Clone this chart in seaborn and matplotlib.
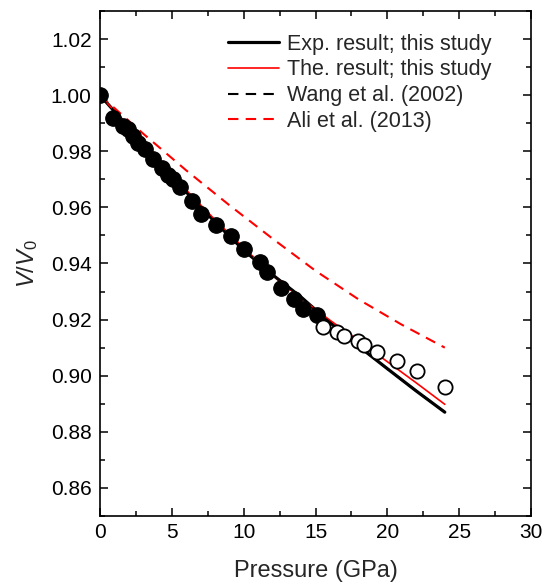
import numpy as np
import pandas as pd
import matplotlib
matplotlib.use('Agg')
import matplotlib.pyplot as plt
import seaborn as sns

# Measured points (filled: this study, open: higher pressure)
p_filled = [0.0, 0.88, 1.62, 1.97, 2.28, 2.67, 3.13, 3.71, 4.29, 4.75, 5.10, 5.57,
            6.38, 7.03, 8.07, 9.10, 10.02, 11.13, 11.60, 12.57, 13.50, 14.15, 15.08]
v_filled = [1.000, 0.9920, 0.9891, 0.9879, 0.9855, 0.9831, 0.9807, 0.9774, 0.9739,
            0.9715, 0.9701, 0.9671, 0.9621, 0.9576, 0.9537, 0.9498, 0.9451, 0.9404,
            0.9368, 0.9314, 0.9273, 0.9237, 0.9216]
p_open = [15.50, 16.47, 17.00, 17.97, 18.39, 19.26, 20.65, 22.04, 24.03]
v_open = [0.9175, 0.9156, 0.9140, 0.9124, 0.9109, 0.9085, 0.9053, 0.9015, 0.8961]

# Fitted curves
p_exp = [0, 2, 4, 6, 8, 10, 12, 14, 16, 18, 20, 22, 24]
v_exp = [1.000, 0.9885, 0.9768, 0.9655, 0.9548, 0.9448, 0.9360, 0.9280, 0.9190,
         0.9105, 0.9025, 0.8946, 0.8870]
p_the = [0, 2, 4, 6, 8, 10, 12, 14, 16, 18, 20, 22, 24]
v_the = [1.000, 0.9888, 0.9775, 0.9662, 0.9556, 0.9456, 0.9360, 0.9275, 0.9198,
         0.9125, 0.9050, 0.8975, 0.8898]
p_wang = [0, 2, 4, 6, 8, 10, 12, 14, 16, 18, 20, 22, 24]
v_wang = [1.000, 0.9885, 0.9768, 0.9655, 0.9548, 0.9448, 0.9360, 0.9280, 0.9190,
          0.9105, 0.9025, 0.8946, 0.8870]
p_ali = [0, 3, 6, 9, 12, 15, 18, 21, 24]
v_ali = [1.000, 0.9863, 0.9732, 0.9608, 0.9489, 0.9374, 0.9272, 0.9182, 0.9100]

labels = ['Exp. result; this study', 'The. result; this study',
          'Wang et al. (2002)', 'Ali et al. (2013)']

sns.set_theme(style='ticks')
plt.rcParams['font.family'] = ['Liberation Sans', 'DejaVu Sans']
plt.rcParams['mathtext.fontset'] = 'custom'
plt.rcParams['mathtext.it'] = 'Liberation Sans:italic'
plt.rcParams['mathtext.rm'] = 'Liberation Sans'

fig = plt.figure(figsize=(5.45, 5.86), dpi=100)
ax = fig.add_axes([0.1835, 0.1195, 0.7908, 0.8617])

curves = [
    (p_exp, v_exp, 'black', '-', 2.3),
    (p_the, v_the, 'red', '-', 1.2),
    (p_wang, v_wang, 'black', (0, (5, 3.5)), 1.5),
    (p_ali, v_ali, 'red', (0, (5, 3.5)), 1.5),
]
for (p, v, c, ls, lw), lab in zip(curves, labels):
    df = pd.DataFrame({'P': p, 'V': v})
    sns.lineplot(data=df, x='P', y='V', color=c, linestyle=ls, linewidth=lw,
                 ax=ax, label=lab, zorder=2)
handles = ax.get_lines()[:4]

sns.scatterplot(x=p_filled, y=v_filled, color='black', s=125, edgecolor='black',
                linewidth=0.8, ax=ax, zorder=3, legend=False)
sns.scatterplot(x=p_open, y=v_open, color='white', s=105, edgecolor='black',
                linewidth=1.3, ax=ax, zorder=3, legend=False)

ax.set_xlim(0, 30)
ax.set_ylim(0.85, 1.03)
ax.set_xticks(np.arange(0, 31, 5))
ax.set_xticks(np.arange(0, 31, 2.5), minor=True)
ax.set_yticks(np.arange(0.86, 1.021, 0.02))
ax.set_yticks(np.arange(0.85, 1.031, 0.01), minor=True)
ax.set_yticklabels([f'{t:.2f}' for t in np.arange(0.86, 1.021, 0.02)])

ax.tick_params(which='both', direction='in', top=True, right=True,
               labelsize=15, width=1.1, color='black', labelcolor='black')
ax.tick_params(axis='y', pad=6)
ax.tick_params(axis='x', pad=5)
ax.tick_params(which='major', length=6)
ax.tick_params(which='minor', length=3.5)
for s in ax.spines.values():
    s.set_linewidth(1.2)
    s.set_color('black')

ax.set_xlabel('Pressure (GPa)', fontsize=17, labelpad=13)
ax.set_ylabel(r'$V/V_0$', fontsize=17, labelpad=8)

ax.legend(handles=handles, labels=labels, loc='upper left',
          bbox_to_anchor=(0.297, 0.955), frameon=False, fontsize=15.5,
          handlelength=2.35, handletextpad=0.4, labelspacing=0.22,
          borderpad=0, borderaxespad=0)

fig.savefig('out.png', dpi=100)
